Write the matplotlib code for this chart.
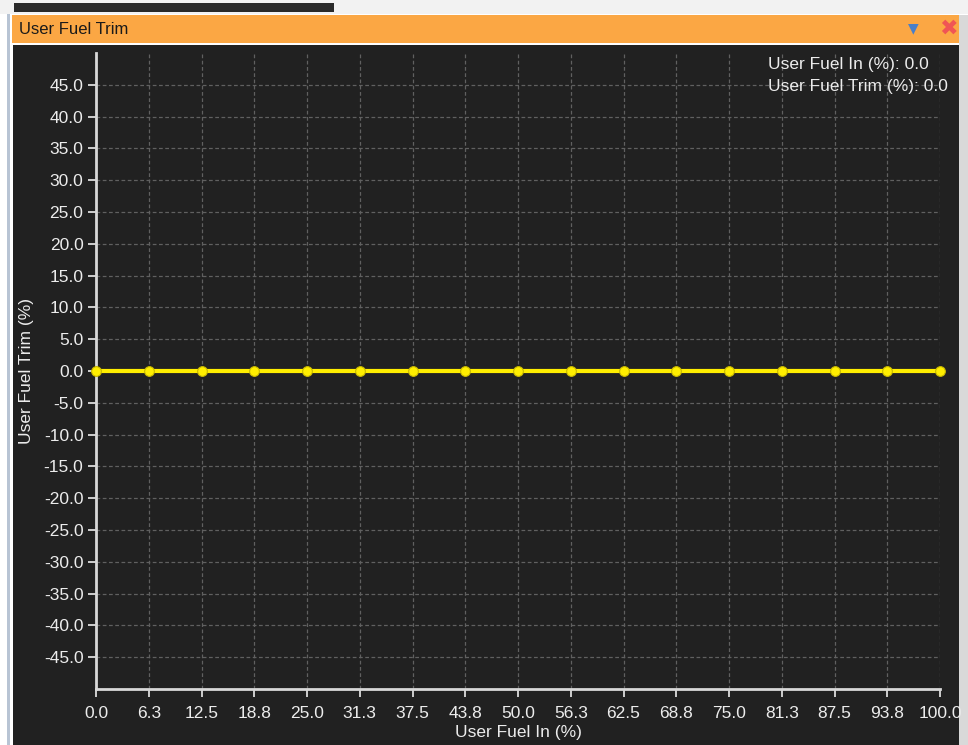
import matplotlib

matplotlib.use("Agg")
import matplotlib.pyplot as plt
from matplotlib.patches import Rectangle

# data
fuel_in = [0.0, 6.25, 12.5, 18.75, 25.0, 31.25, 37.5, 43.75, 50.0,
           56.25, 62.5, 68.75, 75.0, 81.25, 87.5, 93.75, 100.0]
fuel_trim = [0.0] * 17
x_tick_labels = ["0.0", "6.3", "12.5", "18.8", "25.0", "31.3", "37.5", "43.8", "50.0",
                 "56.3", "62.5", "68.8", "75.0", "81.3", "87.5", "93.8", "100.0"]
y_ticks = [-45, -40, -35, -30, -25, -20, -15, -10, -5, 0, 5, 10, 15, 20, 25, 30, 35, 40, 45]
cursor_in = 0.0
cursor_trim = 0.0

W, H = 968, 745
BG = "#212121"
FG = "#ececec"
FONT = ["Liberation Sans", "DejaVu Sans"]
FS = 12.5

fig = plt.figure(figsize=(W / 100, H / 100), dpi=100, facecolor="white")


def px_rect(x, y, w, h, color):
    # rectangle in screenshot pixel coords (origin top-left)
    fig.patches.append(Rectangle((x / W, 1 - (y + h) / H), w / W, h / H,
                                 transform=fig.transFigure, color=color,
                                 zorder=-10, lw=0))


# window chrome
px_rect(0, 0, W, 14, "#f2f2f2")
px_rect(14, 3, 320, 9, "#2a2a2a")
px_rect(7, 14, 3, H - 14, "#b8c4d4")
px_rect(12, 15, 950, 28, "#fba744")
px_rect(12, 43, 950, 2, "#ffffff")
px_rect(13, 45, 946, H - 45, BG)
px_rect(959, 15, 9, H - 15, "#d9d9d9")

fig.text(19 / W, 1 - 29 / H, "User Fuel Trim", fontsize=12, color="#1a1a1a",
         va="center", ha="left", family=FONT)
fig.text(913 / W, 1 - 28 / H, "\u25BC", fontsize=10, color="#4a7fc8",
         va="center", ha="center", family=["DejaVu Sans"])
fig.text(948 / W, 1 - 29 / H, "\u2716", fontsize=16, color="#f05555",
         va="center", ha="center", family=["DejaVu Sans"])

ax = fig.add_axes([96 / W, 1 - 689 / H, 844 / W, 636 / H], zorder=5)
ax.set_facecolor(BG)
ax.plot(fuel_in, fuel_trim, color="#ffee00", lw=3, marker="o", ms=7,
        mfc="#ffee00", mec="#c8b800", mew=0.8, zorder=4, clip_on=False)

ax.set_xlim(0, 100)
ax.set_ylim(-50, 50)
ax.set_xticks(fuel_in)
ax.set_xticklabels(x_tick_labels)
ax.set_yticks(y_ticks)
ax.set_yticklabels([f"{v:.1f}" for v in y_ticks])
ax.grid(True, color="#606060", ls=(0, (3, 2)), lw=0.9)
ax.set_axisbelow(True)

for s in ("top", "right"):
    ax.spines[s].set_visible(False)
for s in ("left", "bottom"):
    ax.spines[s].set_color("#d8d8d8")
    ax.spines[s].set_linewidth(2)
ax.tick_params(colors=FG, labelsize=FS, length=6, width=1.2, direction="out")
ax.tick_params(axis="x", pad=6)
ax.tick_params(axis="y", pad=3)
for lab in ax.get_xticklabels() + ax.get_yticklabels():
    lab.set_family(FONT)

ax.set_xlabel("User Fuel In (%)", color=FG, fontsize=FS, family=FONT, labelpad=3)
ax.set_ylabel("User Fuel Trim (%)", color=FG, fontsize=FS, family=FONT, labelpad=7)

fig.text(768 / W, 1 - 64 / H, f"User Fuel In (%): {cursor_in:.1f}", color=FG,
         fontsize=FS, family=FONT, va="center", ha="left", zorder=10)
fig.text(768 / W, 1 - 86 / H, f"User Fuel Trim (%): {cursor_trim:.1f}", color=FG,
         fontsize=FS, family=FONT, va="center", ha="left", zorder=10)

fig.savefig("out.png", dpi=100, facecolor=fig.get_facecolor())
